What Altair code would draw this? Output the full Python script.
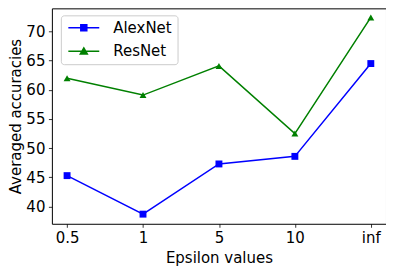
import altair as alt
import pandas as pd

eps = ["0.5", "1", "5", "10", "inf"]
alexnet = [45.3, 38.7, 47.3, 48.6, 64.5]
resnet = [62.0, 59.1, 64.1, 52.5, 72.4]
series = ["AlexNet", "ResNet"]
colors = ["#0000ff", "#008000"]
markers = ["square", "triangle-up"]
y_ticks = [40, 45, 50, 55, 60, 65, 70]

rows = []
for e, a, r in zip(eps, alexnet, resnet):
    rows.append({"eps": e, "acc": a, "model": "AlexNet"})
    rows.append({"eps": e, "acc": r, "model": "ResNet"})
df = pd.DataFrame(rows)

FONT = "DejaVu Sans"

x = alt.X("eps:O", sort=eps, scale=alt.Scale(type="point", padding=0.2),
          axis=alt.Axis(title="Epsilon values", labelAngle=0, titlePadding=5))
y = alt.Y("acc:Q", scale=alt.Scale(domain=[37.05, 73.96], nice=False, zero=False),
          axis=alt.Axis(title="Averaged accuracies", values=y_ticks, titlePadding=2))
color = alt.Color("model:N", scale=alt.Scale(domain=series, range=colors), legend=None)

base = alt.Chart(df)
lines = base.mark_line(strokeWidth=1.5).encode(x=x, y=y, color=color)
points = base.mark_point(filled=True, size=48, opacity=1).encode(
    x=x, y=y, color=color,
    shape=alt.Shape("model:N", scale=alt.Scale(domain=series, range=markers), legend=None),
)

legend_paths = [
    "M-1,0H5.2M1.5,-0.6H2.7V0.6H1.5Z",
    "M-1,0H5.2M2.1,-0.65L2.8,0.55H1.4Z",
]
leg = base.transform_filter("false").mark_point(filled=True, opacity=1).encode(
    x=x, y=y,
    shape=alt.Shape("model:N", scale=alt.Scale(domain=series, range=legend_paths),
                    legend=alt.Legend(title=None, orient="none", legendX=9, legendY=7,
                                      symbolSize=100, symbolStrokeWidth=1.5,
                                      labelOffset=32.5, rowPadding=7.5, padding=5,
                                      fillColor="rgba(255,255,255,0.8)",
                                      strokeColor="#cccccc", cornerRadius=3,
                                      labelFontSize=15, labelFont=FONT,
                                      labelColor="black")),
    fill=alt.Fill("model:N", scale=alt.Scale(domain=series, range=colors),
                  legend=alt.Legend(title=None, orient="none", legendX=9, legendY=7)),
    stroke=alt.Stroke("model:N", scale=alt.Scale(domain=series, range=colors),
                      legend=alt.Legend(title=None, orient="none", legendX=9, legendY=7)),
)

chart = alt.layer(lines, points, leg).resolve_scale(
    shape="independent", fill="independent", stroke="independent"
).properties(
    width=335, height=216,
    autosize=alt.AutoSizeParams(type="none"),
    padding={"left": 44, "top": 0, "right": 0, "bottom": 48},
).configure_view(
    stroke="black", strokeWidth=1
).configure_axis(
    domain=False, grid=False,
    tickColor="black", tickSize=3.5, tickWidth=0.8,
    labelFont=FONT, labelFontSize=15, labelColor="black", labelPadding=3.5,
    titleFont=FONT, titleFontSize=15, titleColor="black", titleFontWeight="normal",
)

chart.save("out.html", embed_options={"renderer": "svg", "actions": False})
